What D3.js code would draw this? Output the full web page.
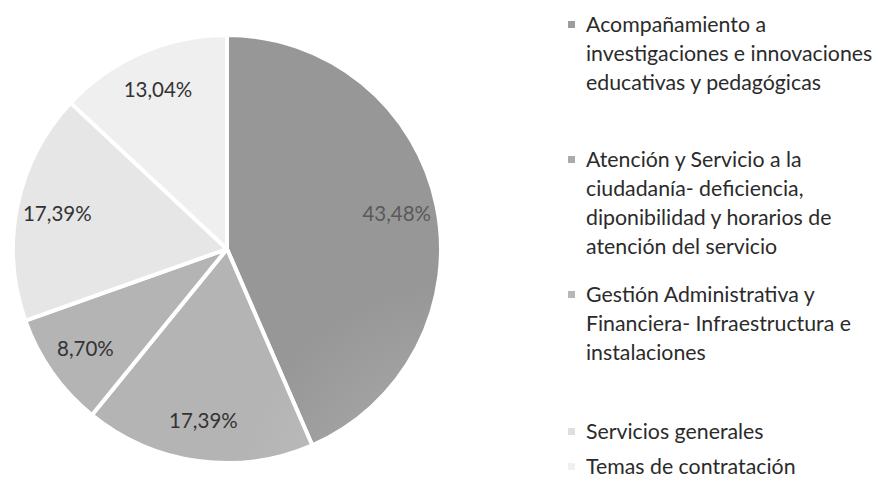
<!DOCTYPE html>
<html>
<head>
<meta charset="utf-8">
<script src="https://cdn.jsdelivr.net/npm/d3@7"></script>
<style>
  html, body { margin: 0; padding: 0; background: #ffffff; }
  svg { display: block; }
</style>
</head>
<body>
<svg id="chart" width="887" height="478"></svg>
<script>
// ---- data ----
const categoryLines = [
  ["Acompañamiento a", "investigaciones e innovaciones", "educativas y pedagógicas"],
  ["Atención y Servicio a la", "ciudadanía- deficiencia,", "diponibilidad y horarios de", "atención del servicio"],
  ["Gestión Administrativa y", "Financiera- Infraestructura e", "instalaciones"],
  ["Servicios generales"],
  ["Temas de contratación"]
];
const categories = categoryLines.map(l => l.join(" "));
const values = [43.48, 17.39, 8.70, 17.39, 13.04];
const valueLabels = ["43,48%", "17,39%", "8,70%", "17,39%", "13,04%"];

// ---- styles ----
const innerColors = ["#b0b0b0", "#c4c4c4", "#c4c4c4", "#f0f0f0", "#f7f7f7"];
const outerColors = ["#979797", "#b4b4b4", "#b4b4b4", "#e6e6e6", "#efefef"];
const swatchColors = ["#9d9d9d", "#ababab", "#b8b8b8", "#dedede", "#f0f0f0"];
const labelColors = ["#5a5a5a", "#333333", "#333333", "#333333", "#333333"];

const svg = d3.select("#chart");
const cx = 227, cy = 249, R = 214;
const FONT = "Lato, 'Open Sans', sans-serif";

const defs = svg.append("defs");
values.forEach((v, i) => {
  const g = defs.append("radialGradient")
    .attr("id", "grad" + i)
    .attr("gradientUnits", "userSpaceOnUse")
    .attr("cx", cx).attr("cy", cy).attr("r", R);
  g.append("stop").attr("offset", "0%").attr("stop-color", innerColors[i]);
  g.append("stop").attr("offset", "100%").attr("stop-color", outerColors[i]);
});

const pie = d3.pie().value(d => d).sort(null);
const arcs = pie(values);
const arc = d3.arc().innerRadius(0).outerRadius(R);
const labelArc = d3.arc().innerRadius(R * 0.81).outerRadius(R * 0.81);

const g = svg.append("g").attr("transform", `translate(${cx},${cy})`);
g.selectAll("path.slice")
  .data(arcs)
  .join("path")
  .attr("class", "slice")
  .attr("d", arc)
  .attr("fill", (d, i) => `url(#grad${i})`)
  .attr("stroke", "#ffffff")
  .attr("stroke-width", 4)
  .attr("stroke-linejoin", "round");

g.selectAll("text.val")
  .data(arcs)
  .join("text")
  .attr("class", "val")
  .attr("transform", d => `translate(${labelArc.centroid(d)})`)
  .attr("text-anchor", "middle")
  .attr("dy", "0.35em")
  .attr("font-family", FONT)
  .attr("font-size", 20.5)
  .attr("fill", (d, i) => labelColors[i])
  .text((d, i) => valueLabels[i]);

// ---- legend ----
const legendX = 586;
const itemTops = [25, 160, 295, 432, 467];
const lineH = 29;
const legend = svg.append("g");
categoryLines.forEach((lines, i) => {
  const y0 = itemTops[i];
  legend.append("rect")
    .attr("x", legendX - 18).attr("y", y0 - 4)
    .attr("width", 7).attr("height", 7)
    .attr("fill", swatchColors[i]);
  const t = legend.append("text")
    .attr("font-family", FONT)
    .attr("font-size", 21.3)
    .attr("fill", "#2b2b2b");
  lines.forEach((ln, j) => {
    t.append("tspan")
      .attr("x", legendX)
      .attr("y", y0 + j * lineH)
      .attr("dy", "0.35em")
      .text(ln);
  });
});
</script>
</body>
</html>
